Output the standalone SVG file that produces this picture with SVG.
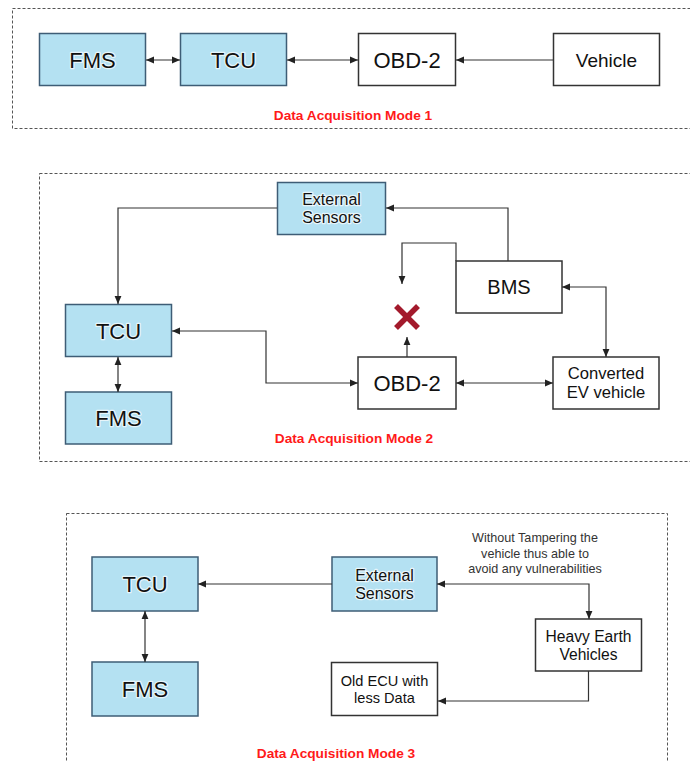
<svg xmlns="http://www.w3.org/2000/svg" width="690" height="762" viewBox="0 0 690 762">
  <style>
    .frame { fill: none; stroke: #555; stroke-width: 1; stroke-dasharray: 3 2; }
    .blue { fill: #b4e1f2; stroke: #3e5d76; stroke-width: 1.5; }
    .plain { fill: #fff; stroke: #333; stroke-width: 1.5; }
    text { font-family: "Liberation Sans", Arial, sans-serif; fill: #111; text-anchor: middle; dominant-baseline: central; }
    .onblue { stroke: #fff; stroke-width: 2.5; stroke-opacity: 0.7; paint-order: stroke; stroke-linejoin: round; }
    .big { font-size: 22px; }
    .mid { font-size: 16px; }
    .caption { font-size: 13.7px; font-weight: bold; fill: #ff1a1a; }
    .note { font-size: 12.6px; fill: #333; }
    .wire { fill: none; stroke: #333; stroke-width: 1.2; }
    .cross { stroke: #a31a2c; stroke-width: 5.5; stroke-linecap: butt; }
  </style>
  <defs>
    <marker id="ah" viewBox="0 0 8 8" refX="8" refY="4" markerWidth="8" markerHeight="8" markerUnits="userSpaceOnUse" orient="auto-start-reverse">
      <path d="M0,0.6 L8,4 L0,7.4 Z" fill="#222"/>
    </marker>
  </defs>

  <rect width="690" height="762" fill="#fff"/>

  <!-- section frames -->
  <g id="frames">
    <rect class="frame" x="12.5" y="8.5" width="700" height="120"/>
    <rect class="frame" x="39.5" y="173.5" width="670" height="288"/>
    <rect class="frame" x="66.5" y="513.5" width="601" height="280"/>
  </g>

  <!-- Mode 1 -->
  <g id="m1-fms"><rect class="blue" x="39.5" y="33.5" width="106" height="52"/><text class="big onblue" x="92.5" y="60">FMS</text></g>
  <g id="m1-tcu"><rect class="blue" x="180.5" y="33.5" width="106" height="52"/><text class="big onblue" x="233.5" y="60">TCU</text></g>
  <g id="m1-obd"><rect class="plain" x="358.5" y="33.5" width="97" height="52"/><text class="big" x="407" y="60">OBD-2</text></g>
  <g id="m1-vehicle"><rect class="plain" x="553.5" y="33.5" width="106" height="52"/><text x="606.5" y="60" font-size="19">Vehicle</text></g>
  <g id="m1-caption"><text class="caption" x="353" y="115">Data Acquisition Mode 1</text></g>

  <!-- Mode 2 -->
  <g id="m2-sensors"><rect class="blue" x="277.5" y="182.5" width="108" height="52"/><text class="mid onblue" x="331.5" y="199">External</text><text class="mid onblue" x="331.5" y="217">Sensors</text></g>
  <g id="m2-bms"><rect class="plain" x="456" y="261" width="106" height="52"/><text x="509" y="287" font-size="20">BMS</text></g>
  <g id="m2-tcu"><rect class="blue" x="65.5" y="304.5" width="106" height="52"/><text class="big onblue" x="118.5" y="331">TCU</text></g>
  <g id="m2-fms"><rect class="blue" x="65.5" y="392" width="106" height="52"/><text class="big onblue" x="118.5" y="418">FMS</text></g>
  <g id="m2-obd"><rect class="plain" x="358" y="357" width="98" height="52"/><text class="big" x="407" y="383">OBD-2</text></g>
  <g id="m2-ev"><rect class="plain" x="553" y="357" width="106" height="52"/><text x="606" y="373" font-size="16.6">Converted</text><text x="606" y="392" font-size="16.6">EV vehicle</text></g>
  <g id="m2-blocked">
    <line class="cross" x1="396" y1="306" x2="418" y2="328"/>
    <line class="cross" x1="418" y1="306" x2="396" y2="328"/>
  </g>
  <g id="m2-caption"><text class="caption" x="354" y="438">Data Acquisition Mode 2</text></g>

  <!-- Mode 3 -->
  <g id="m3-tcu"><rect class="blue" x="92" y="557" width="106" height="54"/><text class="big onblue" x="145" y="584">TCU</text></g>
  <g id="m3-fms"><rect class="blue" x="92" y="662" width="106" height="54"/><text class="big onblue" x="145" y="689">FMS</text></g>
  <g id="m3-sensors"><rect class="blue" x="332" y="557" width="105" height="54"/><text class="mid onblue" x="384.5" y="575">External</text><text class="mid onblue" x="384.5" y="593">Sensors</text></g>
  <g id="m3-heavy"><rect class="plain" x="535.5" y="619" width="106" height="52"/><text x="588.5" y="636" font-size="15.6">Heavy Earth</text><text x="588.5" y="654" font-size="15.6">Vehicles</text></g>
  <g id="m3-ecu"><rect class="plain" x="331.5" y="662.5" width="106" height="53"/><text x="384.5" y="681" font-size="14.6">Old ECU with</text><text x="384.5" y="698" font-size="14.6">less Data</text></g>
  <g id="m3-note"><text class="note" x="535" y="538">Without Tampering the</text><text class="note" x="535" y="553.5">vehicle thus able to</text><text class="note" x="535" y="569">avoid any vulnerabilities</text></g>
  <g id="m3-caption"><text class="caption" x="336" y="753">Data Acquisition Mode 3</text></g>

  <!-- connectors -->
  <g id="connectors" class="wire">
    <!-- mode 1 -->
    <path d="M146,60 H180" marker-start="url(#ah)" marker-end="url(#ah)"/>
    <path d="M287,60 H358" marker-start="url(#ah)" marker-end="url(#ah)"/>
    <path d="M553,60 H456" marker-end="url(#ah)"/>
    <!-- mode 2 -->
    <path d="M277,208 H118 V304" marker-end="url(#ah)"/>
    <path d="M508,261 V208 H386" marker-end="url(#ah)"/>
    <path d="M456,261 V243 H402 V284" marker-end="url(#ah)"/>
    <path d="M562,287 H606 V357" marker-start="url(#ah)" marker-end="url(#ah)"/>
    <path d="M407,357 V337" marker-end="url(#ah)"/>
    <path d="M172,331 H266 V383 H358" marker-start="url(#ah)" marker-end="url(#ah)"/>
    <path d="M456,383 H553" marker-start="url(#ah)" marker-end="url(#ah)"/>
    <path d="M118,357 V392" marker-start="url(#ah)" marker-end="url(#ah)"/>
    <!-- mode 3 -->
    <path d="M332,584 H198" marker-end="url(#ah)"/>
    <path d="M145,611 V662" marker-start="url(#ah)" marker-end="url(#ah)"/>
    <path d="M437,584 H589 V619" marker-start="url(#ah)" marker-end="url(#ah)"/>
    <path d="M588.5,671 V701 H438" marker-end="url(#ah)"/>
  </g>
</svg>
